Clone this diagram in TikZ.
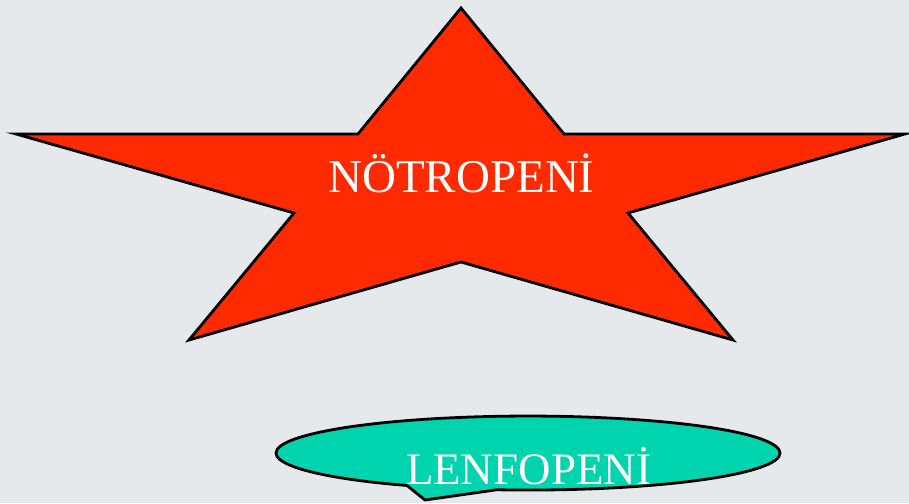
\documentclass[tikz,border=0pt]{standalone}
\usepackage{fontspec}
\setmainfont{Liberation Serif}
\definecolor{bgcol}{HTML}{E6E9EC}
\definecolor{starred}{HTML}{FF2A00}
\definecolor{tealfill}{HTML}{00D4AE}
\tikzset{
  shapeline/.style={draw=black, line width=2.8pt, line join=miter},
  whitetext/.style={text=white, inner sep=0pt, anchor=base}
}
\begin{document}
\begin{tikzpicture}[x=1pt,y=-1pt]
\useasboundingbox (0,0) rectangle (909,503);
\fill[bgcol] (0,0) rectangle (909,503);
% star
\path[shapeline, fill=starred]
  (461,8) -- (564,134) -- (905,134) -- (628,213) -- (733,340)
  -- (461,262) -- (189,340) -- (294,213) -- (16,134) -- (358,134) -- cycle;
\node[whitetext, font=\fontsize{47}{50}\selectfont] (neutro) at (461.5,192) {NÖTROPENİ};
% callout
\path[shapeline, fill=tealfill]
  (407,485.5) arc[start angle=118.7, end angle=457.1, x radius=252, y radius=37]
  -- (425,500) -- cycle;
\node[whitetext, font=\fontsize{45}{48}\selectfont] (lenfo) at (528.5,484) {LENFOPENİ};
\end{tikzpicture}
\end{document}
